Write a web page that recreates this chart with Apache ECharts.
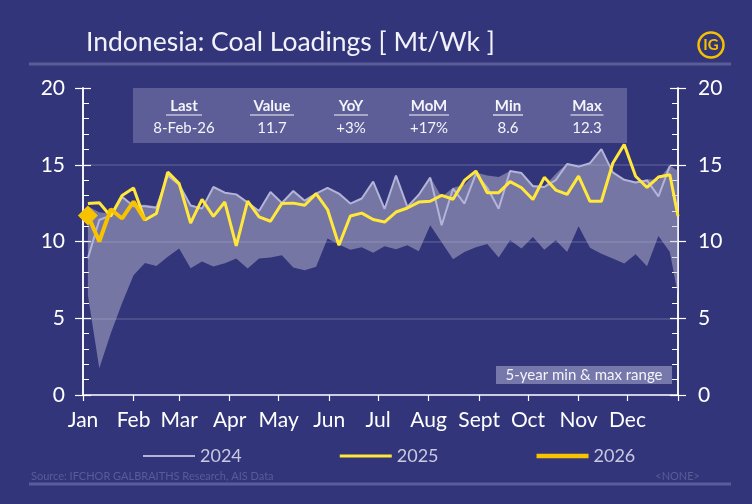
<!DOCTYPE html>
<html><head><meta charset="utf-8">
<script src="https://cdn.jsdelivr.net/npm/echarts@6/dist/echarts.min.js"></script>
<style>html,body{margin:0;padding:0;background:#32357A}#c{width:752px;height:504px}</style>
</head><body><div id="c"></div>
<script>
const monthLabels = ['Jan','Feb','Mar','Apr','May','Jun','Jul','Aug','Sept','Oct','Nov','Dec'];
const monthStartDays = [0,31,59,90,120,151,181,212,243,273,304,334,365];
const weekDays = [3,10,17,24,31,38,45,52,59,66,73,80,87,94,101,108,115,122,129,136,143,150,157,164,171,178,185,192,199,206,213,220,227,234,241,248,255,262,269,276,283,290,297,304,311,318,325,332,339,346,353,360,365];

const y2024 = [8.9,11.4,11.7,12.9,12.3,12.3,12.2,14.3,13.7,12.35,12.14,13.55,13.18,13.07,12.53,11.99,13.22,12.51,13.29,12.66,13.12,13.5,13.12,12.47,12.8,13.9,12.12,14.3,12.25,13.05,14.16,11.06,13.44,12.47,14.4,13.5,12.14,14.59,14.46,13.6,13.55,14.0,15.05,14.88,15.1,16.02,14.5,14.02,13.85,13.98,12.94,14.93];
const y2025 = [12.47,12.53,11.64,13.0,13.48,11.4,11.82,14.52,13.77,11.2,12.74,11.64,12.57,9.71,12.63,11.6,11.32,12.48,12.5,12.36,13.12,12.08,9.76,11.66,11.85,11.43,11.27,11.92,12.18,12.57,12.62,13.0,12.75,13.98,14.59,13.18,13.18,13.9,13.5,12.74,14.18,13.35,13.07,14.26,12.62,12.62,15.1,16.32,14.25,13.52,14.2,14.35,11.64];
const y2026 = [11.7,10.0,12.1,11.5,12.6,11.4];
const bandMax = [12.3,11.9,11.8,13.0,12.4,12.4,12.3,14.35,13.8,12.4,12.2,13.55,13.2,13.1,12.6,12.0,13.25,12.55,13.3,12.7,13.15,13.5,13.15,12.5,12.85,13.9,12.2,14.3,12.3,13.1,14.2,12.9,13.5,13.7,14.5,14.3,14.2,14.6,14.5,13.7,13.6,14.4,15.1,14.9,15.1,16.05,14.55,14.05,13.9,14.05,14.0,14.95,14.6];
const bandMin = [6.5,1.75,4.0,6.0,7.8,8.6,8.4,9.0,9.54,8.25,8.7,8.37,8.58,8.89,8.24,8.89,8.95,9.1,8.3,8.13,8.35,10.19,9.8,9.47,9.62,9.26,9.69,9.5,9.76,9.37,11.06,9.95,8.85,9.32,9.62,9.84,8.95,10.08,9.54,10.3,9.47,10.08,9.32,10.99,9.6,9.2,8.89,8.56,9.17,8.39,10.36,9.32,6.5];

const tableHeaders = ['Last','Value','YoY','MoM','Min','Max'];
const tableValues = ['8-Feb-26','11.7','+3%','+17%','8.6','12.3'];
const yTicks = {min:0, max:20, step:5};

const FONT = 'Lato, "Open Sans", sans-serif';
const pairs = (xs, ys) => ys.map((v,i) => [xs[i], v]);

const chart = echarts.init(document.getElementById('c'), null, {renderer:'canvas'});

const tableCols = [184,272,351,429,508,587];
const underlineW = [36,44,34,40,30,33];
const graphics = [
  {type:'text', left:86, top:29, style:{text:'Indonesia: Coal Loadings [ Mt/Wk ]', fill:'#f2f2fa', font:'26.5px '+FONT}},
  {type:'circle', shape:{cx:711, cy:45, r:12.5}, style:{fill:'none', stroke:'#F5C000', lineWidth:2.5}},
  {type:'text', x:711, y:45, style:{text:'IG', fill:'#F5C000', font:'bold 15px '+FONT, align:'center', verticalAlign:'middle'}},
  {type:'line', shape:{x1:29,y1:64,x2:731,y2:64}, style:{stroke:'#5b5d9a', lineWidth:3}},
  {type:'line', shape:{x1:29,y1:484,x2:731,y2:484}, style:{stroke:'#5b5d9a', lineWidth:3}},
  {type:'rect', shape:{x:133,y:88,width:494,height:55}, style:{fill:'#5d5e97'}, z:5},
  {type:'rect', shape:{x:496,y:366,width:176,height:18}, style:{fill:'#7677aa'}, z:5},
  {type:'text', x:584, y:375, z:6, style:{text:'5-year min & max range', fill:'#f4f4fb', font:'15px '+FONT, align:'center', verticalAlign:'middle'}},
  {type:'text', x:31, y:476, style:{text:'Source: IFCHOR GALBRAITHS Research, AIS Data', fill:'#5a5c98', font:'11px '+FONT, verticalAlign:'middle'}},
  {type:'text', x:700, y:476, style:{text:'<NONE>', fill:'#5a5c98', font:'11px '+FONT, align:'right', verticalAlign:'middle'}}
];
tableHeaders.forEach((h,i) => {
  graphics.push({type:'text', x:tableCols[i], y:106, z:6, style:{text:h, fill:'#f4f4fb', font:'bold 15px '+FONT, align:'center', verticalAlign:'middle'}});
  graphics.push({type:'line', z:6, shape:{x1:tableCols[i]-underlineW[i]/2, y1:115, x2:tableCols[i]+underlineW[i]/2, y2:115}, style:{stroke:'#f4f4fb', lineWidth:1.2}});
  graphics.push({type:'text', x:tableCols[i], y:128, z:6, style:{text:tableValues[i], fill:'#f4f4fb', font:'15px '+FONT, align:'center', verticalAlign:'middle'}});
});

function yAxisDef(pos, labels, inside) {
  return {
    type:'value', position:pos, min:yTicks.min, max:yTicks.max, interval:yTicks.step,
    axisLine:{show:true, lineStyle:{color:'#ffffff', width:1.5}},
    axisTick:{show:true, inside:inside, length:8, lineStyle:{color:'#ffffff', width:1.2}},
    minorTick:{show:inside, splitNumber:5, length:6, lineStyle:{color:'#ffffff', width:1}},
    axisLabel:{show:labels, color:'#ffffff', fontSize:21, fontFamily:FONT, margin:labels?(pos==='left'?18:20):0},
    splitLine:{show:labels && pos==='left', showMaxLine:false, showMinLine:false, lineStyle:{color:'rgba(255,255,255,0.17)', width:1.5}}
  };
}

const option = {
  backgroundColor:'#32357A',
  animation:false,
  textStyle:{fontFamily:FONT},
  grid:{left:83, right:74, top:88, bottom:109, containLabel:false, outerBoundsMode:'none'},
  xAxis:{
    type:'value', min:0, max:365,
    axisLine:{show:true, onZero:false, lineStyle:{color:'#ffffff', width:1.5}},
    axisTick:{show:true, customValues:monthStartDays, length:6, lineStyle:{color:'#ffffff', width:1.2}},
    axisLabel:{customValues:monthStartDays.slice(0,12), formatter:(v)=>monthLabels[monthStartDays.indexOf(v)], color:'#ffffff', fontSize:21, fontFamily:FONT, margin:15},
    splitLine:{show:false}
  },
  yAxis:[yAxisDef('left',true,true), yAxisDef('left',false,false), yAxisDef('right',true,true), yAxisDef('right',false,false)],
  legend:{
    data:[
      {name:'2024', icon:'path://M0,0H52V2H0Z'},
      {name:'2025', icon:'path://M0,0H52V3H0Z'},
      {name:'2026', icon:'path://M0,0H52V4.5H0Z'}
    ],
    left:138, top:442, itemWidth:52, itemHeight:12, itemGap:98, symbolKeepAspect:true,
    textStyle:{color:'#c9c9e0', fontSize:18, fontFamily:FONT}
  },
  graphic:graphics,
  series:[
    {
      type:'custom', name:'5-year range', silent:true, clip:true, z:1,
      data:[[weekDays[0], bandMax[0]]],
      renderItem:(params, api) => {
        const pts = [];
        for (let i=0;i<bandMax.length;i++) pts.push(api.coord([weekDays[i], bandMax[i]]));
        for (let i=bandMin.length-1;i>=0;i--) pts.push(api.coord([weekDays[i], bandMin[i]]));
        return {type:'polygon', shape:{points:pts}, style:{fill:'rgba(190,190,212,0.48)'}};
      }
    },
    {type:'line', name:'2024', data:pairs(weekDays,y2024), symbol:'none', lineStyle:{color:'#b3b4d8', width:2}, itemStyle:{color:'#b3b4d8'}, z:3},
    {type:'line', name:'2025', data:pairs(weekDays,y2025), symbol:'none', lineStyle:{color:'#FFE83B', width:3}, itemStyle:{color:'#FFE83B'}, z:4},
    {type:'line', name:'2026', data:pairs(weekDays,y2026).map((p,i)=> i===0 ? {value:p, symbol:'diamond', symbolSize:20} : {value:p}), symbol:'none', showSymbol:true, lineStyle:{color:'#F7C300', width:4}, itemStyle:{color:'#F7C300'}, z:5}
  ]
};
chart.setOption(option);
</script></body></html>
